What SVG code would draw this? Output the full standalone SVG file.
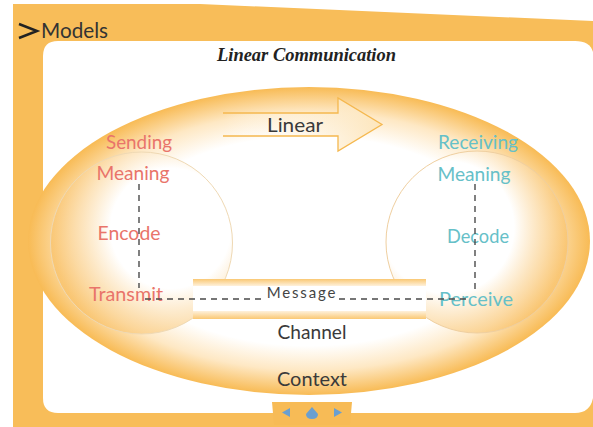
<svg xmlns="http://www.w3.org/2000/svg" width="593" height="427" viewBox="0 0 593 427">
<style>
.h{font-family:"Lato","Noto Sans",sans-serif;font-size:19px}
.r{fill:#e9746a}.t{fill:#66c0c8}.d{fill:#3a3a3a}
.dash{fill:none;stroke:#4a4a4a;stroke-width:1.4;stroke-dasharray:6 5}
</style>
<defs>
<radialGradient id="big" cx="0.5" cy="0.5" r="0.5">
<stop offset="0" stop-color="#fff"/><stop offset="0.68" stop-color="#fff"/><stop offset="0.84" stop-color="#fee8c4"/><stop offset="1" stop-color="#f8bb55"/>
</radialGradient>
<radialGradient id="cl" cx="0.66" cy="0.42" r="0.66">
<stop offset="0" stop-color="#fff"/><stop offset="0.5" stop-color="#fff"/><stop offset="1" stop-color="#f9c26a" stop-opacity="0.7"/>
</radialGradient>
<radialGradient id="cr" cx="0.34" cy="0.42" r="0.66">
<stop offset="0" stop-color="#fff"/><stop offset="0.55" stop-color="#fff"/><stop offset="1" stop-color="#f9c26a" stop-opacity="0.7"/>
</radialGradient>
<linearGradient id="ar" x1="0" x2="1" y1="0" y2="0">
<stop offset="0" stop-color="#fff" stop-opacity="0"/><stop offset="1" stop-color="#fde6bd"/>
</linearGradient>
<linearGradient id="bt" x1="0" x2="0" y1="0" y2="1">
<stop offset="0" stop-color="#fac873"/><stop offset="1" stop-color="#fef1dc"/>
</linearGradient>
<linearGradient id="bb" x1="0" x2="0" y1="0" y2="1">
<stop offset="0" stop-color="#fef1dc"/><stop offset="1" stop-color="#fac873"/>
</linearGradient>
</defs>
<rect width="593" height="427" fill="#fff"/>
<g id="frame">
<path d="M13 4H200L593 21V427H13Z" fill="#f8bd59"/>
<path d="M58 41H575Q590 41 593 52V398Q590 413 575 413H58Q43 413 43 398V56Q43 41 58 41Z" fill="#fff"/>
</g>
<g id="context">
<ellipse cx="309" cy="241" rx="281" ry="154" fill="url(#big)"/>
<text class="h d" x="312" y="386" text-anchor="middle" textLength="70" lengthAdjust="spacingAndGlyphs">Context</text>
</g>
<g id="sender">
<circle cx="141.500" cy="243" r="91" fill="url(#cl)" stroke="#efd9b4" stroke-width="1"/>
<text class="h r" x="139" y="149" text-anchor="middle" textLength="66" lengthAdjust="spacingAndGlyphs">Sending</text>
<text class="h r" x="133" y="180" text-anchor="middle" textLength="73" lengthAdjust="spacingAndGlyphs">Meaning</text>
<text class="h r" x="129" y="240" text-anchor="middle" textLength="63" lengthAdjust="spacingAndGlyphs">Encode</text>
<text class="h r" x="126" y="301" text-anchor="middle" textLength="74" lengthAdjust="spacingAndGlyphs">Transmit</text>
</g>
<g id="receiver">
<circle cx="477" cy="242" r="91" fill="url(#cr)" stroke="#efcfa0" stroke-width="1"/>
<text class="h t" x="478" y="149" text-anchor="middle" textLength="80" lengthAdjust="spacingAndGlyphs">Receiving</text>
<text class="h t" x="474" y="181" text-anchor="middle" textLength="73" lengthAdjust="spacingAndGlyphs">Meaning</text>
<text class="h t" x="478" y="243" text-anchor="middle" textLength="62" lengthAdjust="spacingAndGlyphs">Decode</text>
<text class="h t" x="476" y="306" text-anchor="middle" textLength="74" lengthAdjust="spacingAndGlyphs">Perceive</text>
</g>
<g id="channel">
<rect x="193" y="279" width="233" height="33" fill="#fff"/>
<rect x="193" y="279" width="233" height="7" fill="url(#bt)"/>
<rect x="193" y="311" width="233" height="8" fill="url(#bb)"/>
<text class="h d" x="312" y="339" text-anchor="middle" textLength="69" lengthAdjust="spacingAndGlyphs">Channel</text>
</g>
<g id="message">
<text x="302" y="298" text-anchor="middle" font-family="Lato,sans-serif" font-size="15" letter-spacing="1.800" fill="#444">Message</text>
</g>
<g id="linear">
<path d="M223 113H338V98L382 124.500 338 151V136H223" fill="url(#ar)" stroke="#f5b84f" stroke-width="1.300"/>
<text class="h d" x="295" y="132" text-anchor="middle" textLength="56" lengthAdjust="spacingAndGlyphs">Linear</text>
</g>
<g id="connectors">
<path class="dash" d="M139 184V288"/>
<path class="dash" d="M475 184V290"/>
<path class="dash" d="M145 299H264"/>
<path class="dash" d="M339 299H470"/>
</g>
<g id="title">
<text x="306.500" y="61" text-anchor="middle" font-family="'Liberation Serif',serif" font-size="18" font-weight="bold" font-style="italic" fill="#222" textLength="179" lengthAdjust="spacingAndGlyphs">Linear Communication</text>
</g>
<g id="heading">
<path d="M19 24L37 31 19 38" fill="none" stroke="#222" stroke-width="2.500"/>
<text x="41" y="38" font-family="Lato,sans-serif" font-size="21" fill="#333" textLength="67" lengthAdjust="spacingAndGlyphs">Models</text>
</g>
<g id="nav">
<path d="M272 402H352L350 425H274Z" fill="#f7bb56"/>
<path d="M290 408V417L282 412.500Z" fill="#6a9fd0"/>
<path d="M312 407L318 414Q318 419 312 419Q306 419 306 414Z" fill="#6a9fd0"/>
<path d="M334 408V417L342 412.500Z" fill="#6a9fd0"/>
</g>
</svg>
